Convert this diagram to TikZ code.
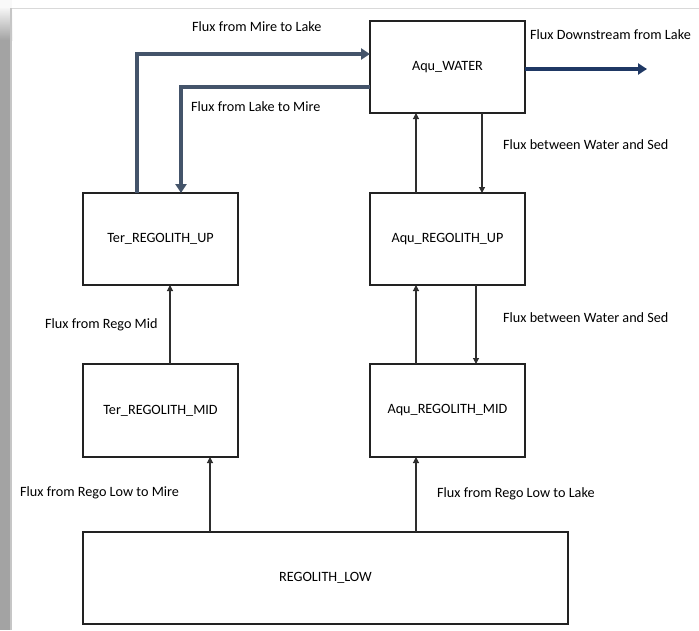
\documentclass[tikz,border=0pt]{standalone}
\usepackage{fontspec}
\setmainfont{Carlito}
\usetikzlibrary{arrows.meta}
\definecolor{slate}{HTML}{44546A}
\definecolor{navy}{HTML}{1F3864}
\definecolor{boxline}{HTML}{222222}
\definecolor{thinline}{HTML}{2E2E2E}
\tikzset{
  compartment/.style={draw=boxline, line width=1.1pt, minimum width=155pt,
    minimum height=92pt, inner sep=0pt, outer sep=0pt,
    font=\fontsize{14.2}{16}\selectfont},
  fluxlabel/.style={anchor=west, inner sep=0pt, font=\fontsize{14.2}{16}\selectfont},
  thinflow/.style={draw=thinline, line width=1.1pt,
    -{Triangle[length=6pt,width=6pt]}},
  mainflow/.style={draw=slate, line width=3.4pt,
    -{Triangle[length=9pt,width=11pt]}},
  outflow/.style={draw=navy, line width=3.2pt,
    -{Triangle[length=9pt,width=11pt]}}
}
\begin{document}
\begin{tikzpicture}[x=1pt,y=-1pt]
  \useasboundingbox (0,0) rectangle (699,630);
  % page edge shadow
  \fill[gray!5] (0,0) rectangle (12,8);
  \shade[top color=gray!8, bottom color=gray!72] (0,8) rectangle (12,40);
  \fill[gray!72] (0,40) rectangle (12,630);
  \fill[gray!45] (10,8) rectangle (12,630);
  \draw[gray!30, line width=1pt] (12,8.5) -- (699,8.5);

  % compartments
  \node[compartment] (aw) at (447.5,67) {Aqu\_WATER};
  \node[compartment] (tu) at (160.5,239) {Ter\_REGOLITH\_UP};
  \node[compartment] (au) at (447.5,239) {Aqu\_REGOLITH\_UP};
  \node[compartment, minimum height=93pt] (tm) at (160.5,410.5) {Ter\_REGOLITH\_MID};
  \node[compartment, minimum height=93pt] (am) at (447.5,410.5) {Aqu\_REGOLITH\_MID};
  \node[compartment, minimum width=485pt] (low) at (325.5,578) {REGOLITH\_LOW};
  \coordinate (downstream) at (647,69);

  % exchange between mire and lake
  \draw[mainflow] ([xshift=-23.5pt]tu.north) |- ([yshift=13pt]aw.west);
  \draw[mainflow] ([yshift=-20pt]aw.west) -| ([xshift=20.5pt]tu.north);
  \draw[outflow] (aw.east |- downstream) -- (downstream);

  % vertical fluxes
  \draw[thinflow] ([xshift=9.5pt]tm.north) -- ([xshift=9.5pt]tu.south);
  \draw[thinflow] ([xshift=-31.5pt]au.north) -- ([xshift=-31.5pt]aw.south);
  \draw[thinflow] ([xshift=34.5pt]aw.south) -- ([xshift=34.5pt]au.north);
  \draw[thinflow] ([xshift=-31.5pt]am.north) -- ([xshift=-31.5pt]au.south);
  \draw[thinflow] ([xshift=28.5pt]au.south) -- ([xshift=28.5pt]am.north);
  \coordinate (lm) at ([xshift=49.5pt]tm.south);
  \coordinate (la) at ([xshift=-31.5pt]am.south);
  \draw[thinflow] (lm |- low.north) -- (lm);
  \draw[thinflow] (la |- low.north) -- (la);

  % flux labels
  \node[fluxlabel] (l1) at (192,27) {Flux from Mire to Lake};
  \node[fluxlabel] (l2) at (191,107) {Flux from Lake to Mire};
  \node[fluxlabel] (l3) at (530,35) {Flux Downstream from Lake};
  \node[fluxlabel] (l4) at (503,145) {Flux between Water and Sed};
  \node[fluxlabel] (l5) at (503,318) {Flux between Water and Sed};
  \node[fluxlabel] (l6) at (45,325) {Flux from Rego Mid};
  \node[fluxlabel] (l7) at (20,493) {Flux from Rego Low to Mire};
  \node[fluxlabel] (l8) at (437,494) {Flux from Rego Low to Lake};
\end{tikzpicture}
\end{document}
